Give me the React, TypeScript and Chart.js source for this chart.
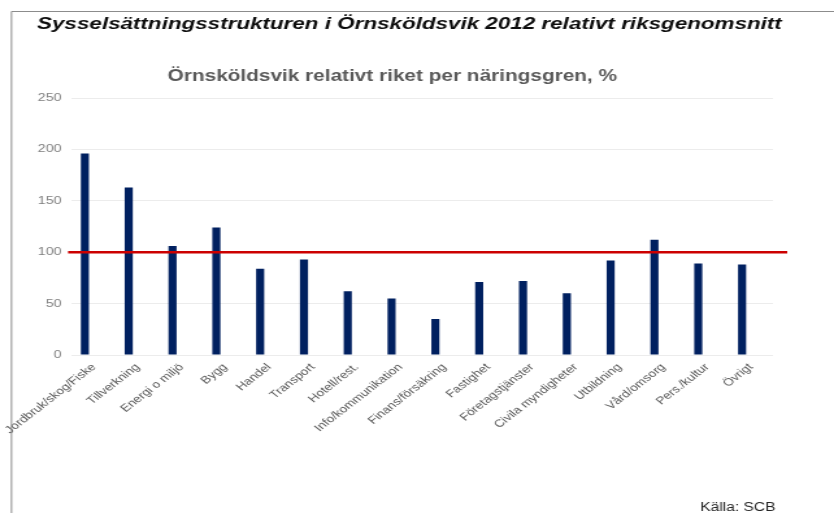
import React, { useEffect, useRef } from "react";
import { Chart, registerables } from "chart.js";

Chart.register(...registerables);

const CATEGORIES = [
  "Jordbruk/skog/Fiske",
  "Tillverkning",
  "Energi o miljö",
  "Bygg",
  "Handel",
  "Transport",
  "Hotell/rest.",
  "Info/kommunikation",
  "Finans/försäkring",
  "Fastighet",
  "Företagstjänster",
  "Civila myndigheter",
  "Utbildning",
  "Vård/omsorg",
  "Pers./kultur",
  "Övrigt",
];
const VALUES = [196, 163, 106, 124, 84, 93, 62, 55, 35, 71, 72, 60, 92, 112, 89, 88];
const REFERENCE_VALUE = 100;
const Y_MIN = 0;
const Y_MAX = 250;
const Y_STEP = 50;
const TITLE = "Sysselsättningsstrukturen i Örnsköldsvik 2012 relativt riksgenomsnitt";
const SUBTITLE = "Örnsköldsvik relativt riket per näringsgren, %";
const SOURCE = "Källa: SCB";

// The reference is horizontally stretched; draw at a narrower internal width and stretch via CSS.
const CSS_W = 834;
const H = 513;
const W = 642;
const FONT = '"Liberation Sans", Arial, sans-serif';

const decorations = {
  id: "decorations",
  afterDatasetsDraw(chart: any) {
    const { ctx, chartArea, scales } = chart;
    const y = scales.y.getPixelForValue(REFERENCE_VALUE);
    ctx.save();
    ctx.strokeStyle = "#cc0000";
    ctx.lineWidth = 2.5;
    ctx.beginPath();
    ctx.moveTo(chartArea.left - 3, y);
    ctx.lineTo(chartArea.right + 11, y);
    ctx.stroke();
    ctx.restore();
  },
  afterDraw(chart: any) {
    const { ctx } = chart;
    ctx.save();
    // frame
    ctx.strokeStyle = "#8c8c8c";
    ctx.lineWidth = 1;
    ctx.beginPath();
    ctx.moveTo(8.85, H);
    ctx.lineTo(8.85, 11.5);
    ctx.lineTo(W, 11.5);
    ctx.stroke();
    // title
    ctx.fillStyle = "#0d0d0d";
    ctx.font = `italic bold 17.25px ${FONT}`;
    ctx.textAlign = "left";
    ctx.textBaseline = "middle";
    ctx.fillText(TITLE, 28.5, 24);
    // subtitle
    ctx.fillStyle = "#595959";
    ctx.font = `bold 16px ${FONT}`;
    ctx.textAlign = "center";
    ctx.fillText(SUBTITLE, 302, 77);
    // source
    ctx.fillStyle = "#262626";
    ctx.font = `12px ${FONT}`;
    ctx.textAlign = "left";
    ctx.fillText(SOURCE, 539, 508);
    ctx.restore();
  },
};

export default function App() {
  const ref = useRef<HTMLCanvasElement | null>(null);

  useEffect(() => {
    if (!ref.current) return;
    const chart = new Chart(ref.current, {
      type: "bar",
      data: {
        labels: CATEGORIES,
        datasets: [
          {
            data: VALUES,
            backgroundColor: "#002060",
            borderWidth: 0,
            categoryPercentage: 0.82,
            barPercentage: 0.45,
          },
          {
            data: CATEGORIES.map(() => null),
            backgroundColor: "rgba(0,0,0,0)",
            categoryPercentage: 0.82,
            barPercentage: 0.45,
          },
        ],
      },
      options: {
        responsive: false,
        maintainAspectRatio: false,
        devicePixelRatio: 1,
        animation: false,
        layout: { padding: { top: 98, left: 0, right: 47, bottom: 0 } },
        plugins: {
          legend: { display: false },
          tooltip: { enabled: false },
          title: { display: false },
        },
        scales: {
          x: {
            grid: { display: false, drawTicks: false },
            border: { display: false },
            ticks: {
              autoSkip: false,
              minRotation: 45,
              maxRotation: 45,
              padding: 6,
              color: "#595959",
              font: { family: FONT, size: 10.5 },
            },
            afterFit(scale: any) {
              scale.height = H - 355;
              scale.paddingLeft = 0;
              scale.paddingRight = 0;
            },
          },
          y: {
            min: Y_MIN,
            max: Y_MAX,
            grid: { color: "#ececec", lineWidth: 1, drawTicks: false },
            border: { display: false },
            ticks: {
              stepSize: Y_STEP,
              padding: 8,
              color: "#7f7f7f",
              font: { family: FONT, size: 11 },
            },
            afterFit(scale: any) {
              scale.width = 55.4;
            },
          },
        },
      },
      plugins: [decorations],
    });
    return () => chart.destroy();
  }, []);

  return (
    <div style={{ position: "absolute", left: 0, top: 0, width: CSS_W, height: H, background: "#fff" }}>
      <canvas
        ref={ref}
        width={W}
        height={H}
        style={{ width: `${CSS_W}px`, height: `${H}px`, display: "block" }}
      />
    </div>
  );
}
